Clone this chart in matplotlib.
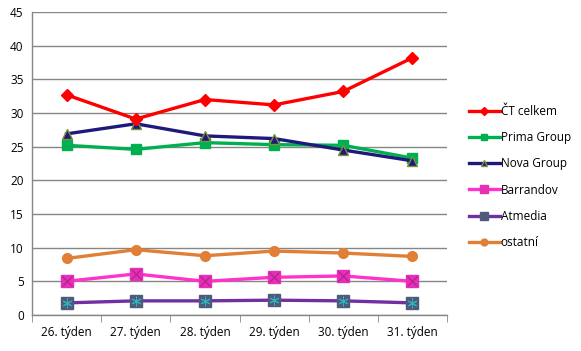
import matplotlib.pyplot as plt
import numpy as np

plt.rcParams['font.family'] = ['Open Sans', 'DejaVu Sans']

# Data
weeks = ['26. týden', '27. týden', '28. týden', '29. týden', '30. týden', '31. týden']
ct = [32.7, 29.1, 32.0, 31.2, 33.2, 38.2]
prima = [25.2, 24.6, 25.6, 25.3, 25.2, 23.3]
nova = [26.9, 28.4, 26.6, 26.2, 24.5, 22.9]
barrandov = [5.0, 6.1, 5.0, 5.6, 5.8, 5.0]
atmedia = [1.8, 2.1, 2.1, 2.2, 2.1, 1.8]
ostatni = [8.4, 9.7, 8.8, 9.5, 9.2, 8.7]

x = np.arange(len(weeks))

fig = plt.figure(figsize=(5.81, 3.51), dpi=100)
ax = fig.add_axes([32/581, 1 - 315/351, 415/581, 303/351])

lw = 2.4
ax.plot(x, ct, color='#FF0000', lw=lw, marker='D', ms=6, mfc='#FF0000', mec='#FF0000', label='ČT celkem', zorder=5)
ax.plot(x, prima, color='#00B050', lw=lw, marker='s', ms=7, mfc='#00B050', mec='#00B050', label='Prima Group', zorder=4)
ax.plot(x, nova, color='#1F1A7A', lw=lw, marker='^', ms=7, mfc='#1F1A7A', mec='#7F8F3A', label='Nova Group', zorder=4)
ax.plot(x, barrandov, color='#FF33CC', lw=lw, marker='s', ms=8, mfc='#E52FB5', mec='#E52FB5', label='Barrandov', zorder=4)
ax.plot(x, barrandov, lw=0, marker='x', ms=7, mec='#B02090', mew=0.8, zorder=5)
ax.plot(x, atmedia, color='#7030A0', lw=lw, marker='s', ms=8, mfc='#4F5B7A', mec='#4F5B7A', label='Atmedia', zorder=4)
ax.plot(x, atmedia, lw=0, marker=(6, 2, 0), ms=7, mec='#2CB5C0', mew=0.7, zorder=5)
ax.plot(x, ostatni, color='#E07F35', lw=lw, marker='o', ms=7, mfc='#E07F35', mec='#E07F35', label='ostatní', zorder=4)

ax.set_xlim(-0.5, 5.5)
ax.set_ylim(0, 45)
ax.set_yticks(range(0, 46, 5))
ax.set_xticks(x)
ax.set_xticklabels(weeks)
ax.set_xticks(np.arange(-0.5, 6, 1), minor=True)
ax.tick_params(axis='x', which='major', length=0, pad=8, labelsize=8.5)
ax.tick_params(axis='x', which='minor', length=5, color='#868686', direction='out')
ax.tick_params(axis='y', length=0, pad=6, labelsize=8.5)
ax.grid(axis='y', color='#868686', lw=1)
ax.set_axisbelow(True)
for s in ['top', 'right']:
    ax.spines[s].set_visible(False)
for s in ['left', 'bottom']:
    ax.spines[s].set_color('#868686')
    ax.spines[s].set_linewidth(1)

handles, labels = ax.get_legend_handles_labels()
fig.legend(handles, labels, loc='upper left', bbox_to_anchor=(463/581, 1 - 99/351),
           frameon=False, fontsize=8.5, handlelength=2.6, handletextpad=0.1,
           labelspacing=1.12, borderpad=0, markerscale=0.7)

fig.savefig('out.png', dpi=100)
